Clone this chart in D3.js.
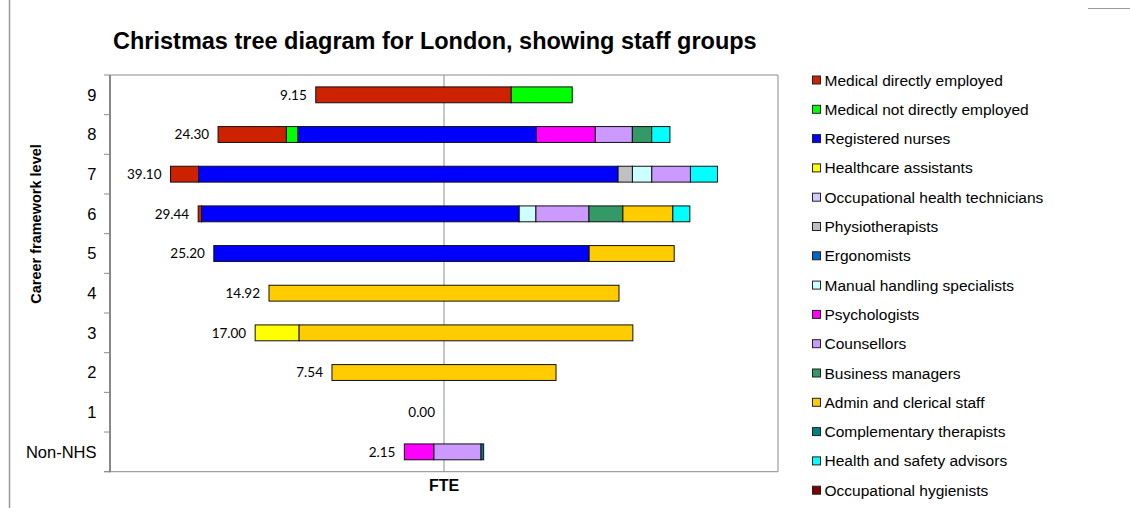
<!DOCTYPE html>
<html>
<head>
<meta charset="utf-8">
<script src="https://cdn.jsdelivr.net/npm/d3@7"></script>
<style>
  html, body { margin: 0; padding: 0; background: #fff; }
  svg { display: block; }
</style>
</head>
<body>
<svg id="chart" width="1130" height="508"></svg>
<script>
// Career framework levels, top to bottom
const levels = ["9", "8", "7", "6", "5", "4", "3", "2", "1", "Non-NHS"];

// Total FTE printed beside each bar
const totalFTE = [9.15, 24.30, 39.10, 29.44, 25.20, 14.92, 17.00, 7.54, 0.00, 2.15];

// Staff groups in stacking / legend order
const staffGroups = [
  "Medical directly employed",
  "Medical not directly employed",
  "Registered nurses",
  "Healthcare assistants",
  "Occupational health technicians",
  "Physiotherapists",
  "Ergonomists",
  "Manual handling specialists",
  "Psychologists",
  "Counsellors",
  "Business managers",
  "Admin and clerical staff",
  "Complementary therapists",
  "Health and safety advisors",
  "Occupational hygienists"
];

const groupColors = [
  "#CC2200", "#00FF00", "#0000FF", "#FFFF00", "#CCCCFF",
  "#C0C0C0", "#0066CC", "#CCFFFF", "#FF00FF", "#CC99FF",
  "#339966", "#FFCC00", "#008080", "#00FFFF", "#800000"
];

// Staff per group at each level (same order as levels)
const medicalDirect        = [14.05, 4.91, 2.01, 0.24, 0, 0, 0, 0, 0, 0];
const medicalNotDirect     = [4.38, 0.83, 0, 0, 0, 0, 0, 0, 0, 0];
const registeredNurses     = [0, 17.13, 30.15, 22.83, 26.97, 0, 0, 0, 0, 0];
const healthcareAssistants = [0, 0, 0, 0, 0, 0, 3.16, 0, 0, 0];
const occHealthTechnicians = [0, 0, 0, 0, 0, 0, 0, 0, 0, 0];
const physiotherapists     = [0, 0, 1.03, 0, 0, 0, 0, 0, 0, 0];
const ergonomists          = [0, 0, 0, 0, 0, 0, 0, 0, 0, 0];
const manualHandling       = [0, 0, 1.39, 1.20, 0, 0, 0, 0, 0, 0];
const psychologists        = [0, 4.24, 0, 0, 0, 0, 0, 0, 0, 2.13];
const counsellors          = [0, 2.66, 2.78, 3.81, 0, 0, 0, 0, 0, 3.38];
const businessManagers     = [0, 1.39, 0, 2.44, 0, 0, 0, 0, 0, 0];
const adminClerical        = [0, 0, 0, 3.59, 6.11, 25.15, 23.98, 16.10, 0, 0];
const complementaryTherapists = [0, 0, 0, 0, 0, 0, 0, 0, 0, 0.19];
const healthSafety         = [0, 1.31, 1.94, 1.22, 0, 0, 0, 0, 0, 0];
const occHygienists        = [0, 0, 0, 0, 0, 0, 0, 0, 0, 0];

const groupValues = [
  medicalDirect, medicalNotDirect, registeredNurses, healthcareAssistants,
  occHealthTechnicians, physiotherapists, ergonomists, manualHandling,
  psychologists, counsellors, businessManagers, adminClerical,
  complementaryTherapists, healthSafety, occHygienists
];

// Rows for d3.stack
const rows = levels.map((lv, i) => {
  const r = { level: lv, fte: totalFTE[i] };
  staffGroups.forEach((g, k) => { r[g] = groupValues[k][i]; });
  r.total = d3.sum(staffGroups, g => r[g]);
  return r;
});

const svg = d3.select("#chart");
const plot = { left: 110, right: 778, top: 75, bottom: 471.7 };

const x = d3.scaleLinear().domain([-24, 24]).range([plot.left, plot.right]);
const y = d3.scaleBand().domain(levels).range([plot.top, plot.bottom])
  .paddingInner(0.6).paddingOuter(0.3);

// Outer chart frame fragments
svg.append("line").attr("x1", 9.5).attr("x2", 9.5).attr("y1", 0).attr("y2", 508)
  .attr("stroke", "#9a9a9a").attr("stroke-width", 1.5);
svg.append("line").attr("x1", 1088).attr("x2", 1130).attr("y1", 8.5).attr("y2", 8.5)
  .attr("stroke", "#9a9a9a").attr("stroke-width", 1);

// Title
svg.append("text")
  .attr("x", 113).attr("y", 49)
  .attr("font-family", "Liberation Sans, Arial, sans-serif")
  .attr("font-weight", "bold").attr("font-size", 23.5)
  .attr("fill", "#000")
  .text("Christmas tree diagram for London, showing staff groups");

// Plot area border (top, right)
svg.append("path")
  .attr("d", `M${plot.left},${plot.top}H${plot.right}V${plot.bottom}`)
  .attr("fill", "none").attr("stroke", "#8c8c8c").attr("stroke-width", 1);

// Bottom line
svg.append("line")
  .attr("x1", plot.left - 6).attr("x2", plot.right)
  .attr("y1", plot.bottom).attr("y2", plot.bottom)
  .attr("stroke", "#8c8c8c").attr("stroke-width", 1);

// Zero line
svg.append("line")
  .attr("x1", x(0)).attr("x2", x(0))
  .attr("y1", plot.top).attr("y2", plot.bottom)
  .attr("stroke", "#8c8c8c").attr("stroke-width", 1);

// Category axis
const yAxis = d3.axisLeft(y).tickSize(0).tickPadding(13.5);
const gy = svg.append("g").attr("transform", `translate(${plot.left},0)`).call(yAxis);
gy.select(".domain").remove();
gy.selectAll("text")
  .attr("font-family", "Liberation Sans, Arial, sans-serif")
  .attr("font-size", 16.5).attr("fill", "#000").attr("dy", "0.36em");

// Tick marks between categories
const step = y.step();
const boundaries = d3.range(levels.length + 1).map(i => plot.top + i * step);
svg.append("g").selectAll("line").data(boundaries).join("line")
  .attr("x1", plot.left - 6).attr("x2", plot.left)
  .attr("y1", d => d).attr("y2", d => d)
  .attr("stroke", "#8c8c8c").attr("stroke-width", 1);

svg.append("line")
  .attr("x1", plot.left).attr("x2", plot.left)
  .attr("y1", plot.top).attr("y2", plot.bottom + 0.5)
  .attr("stroke", "#888").attr("stroke-width", 2);

// Stacked bars, centred on zero
const series = d3.stack().keys(staffGroups)(rows);
const gBars = svg.append("g");
series.forEach((s, k) => {
  gBars.selectAll(null)
    .data(s.filter(d => d[1] - d[0] > 0))
    .join("rect")
    .attr("x", d => x(d[0] - d.data.total / 2))
    .attr("width", d => x(d[1] - d.data.total / 2) - x(d[0] - d.data.total / 2))
    .attr("y", d => y(d.data.level))
    .attr("height", y.bandwidth())
    .attr("fill", groupColors[k])
    .attr("stroke", "#111").attr("stroke-width", 1);
});

// FTE labels
svg.append("g").selectAll("text").data(rows).join("text")
  .attr("x", d => x(-d.total / 2) - 9)
  .attr("y", d => y(d.level) + y.bandwidth() / 2)
  .attr("dy", "0.36em")
  .attr("text-anchor", "end")
  .attr("font-family", "Lato, Open Sans, sans-serif")
  .attr("font-size", 13.5).attr("fill", "#000")
  .text(d => d.fte.toFixed(2));

// Axis titles
svg.append("text")
  .attr("x", x(0)).attr("y", 491)
  .attr("text-anchor", "middle")
  .attr("font-family", "Liberation Sans, Arial, sans-serif")
  .attr("font-weight", "bold").attr("font-size", 16)
  .text("FTE");

svg.append("text")
  .attr("transform", `translate(41,224) rotate(-90)`)
  .attr("text-anchor", "middle")
  .attr("font-family", "Liberation Sans, Arial, sans-serif")
  .attr("font-weight", "bold").attr("font-size", 14.5)
  .text("Career framework level");

// Legend
const legend = svg.append("g").selectAll("g").data(staffGroups).join("g")
  .attr("transform", (d, i) => `translate(812,${80 + i * 29.3})`);
legend.append("rect")
  .attr("x", 0.5).attr("y", -4).attr("width", 8).attr("height", 8)
  .attr("fill", (d, i) => groupColors[i])
  .attr("stroke", "#222").attr("stroke-width", 1);
legend.append("text")
  .attr("x", 12.5).attr("y", 0).attr("dy", "0.36em")
  .attr("font-family", "Liberation Sans, Arial, sans-serif")
  .attr("font-size", 15.5).attr("fill", "#000")
  .text(d => d);
</script>
</body>
</html>
